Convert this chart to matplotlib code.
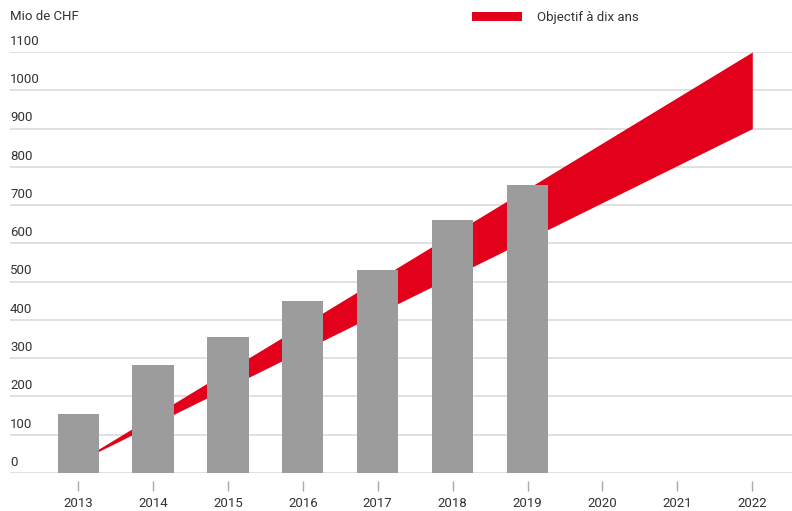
import numpy as np
import matplotlib.pyplot as plt
import matplotlib.transforms as mtransforms

# bar values (Mio de CHF)
years = [2013, 2014, 2015, 2016, 2017, 2018, 2019]
values = [155, 282, 355, 450, 530, 660, 752]

# ten-year objective band: start point and 2022 range
band_years = [2013, 2022]
band_low = [30, 900]
band_high = [30, 1100]

xticks = [2013, 2014, 2015, 2016, 2017, 2018, 2019, 2020, 2021, 2022]
yticks = [0, 100, 200, 300, 400, 500, 600, 700, 800, 900, 1000, 1100]

red = "#E2001A"
grey = "#9C9C9C"
grid = "#DCDCDC"
txt = "#333333"

plt.rcParams['font.family'] = ['Roboto', 'DejaVu Sans']

fig = plt.figure(figsize=(7.92, 5.11), dpi=100)
ax = fig.add_axes([10/792, 38/511, 782/792, 421/511])

# band behind the bars
ax.fill_between(band_years, band_low, band_high, color=red, lw=0, zorder=2,
                label="Objectif à dix ans")
ax.bar(years, values, width=0.55, color=grey, zorder=3)

ax.set_xlim(2012.09, 2022.53)
ax.set_ylim(0, 1100)

# horizontal grid lines
for v in yticks:
    ax.axhline(v, color=grid, lw=1.2, zorder=1)

for s in ax.spines.values():
    s.set_visible(False)

# y labels sit just above their grid line
offset = mtransforms.ScaledTranslation(0, 3/72, fig.dpi_scale_trans)
trans = mtransforms.blended_transform_factory(ax.transAxes, ax.transData) + offset
for v in yticks:
    ax.text(0, v, str(v), transform=trans, ha='left', va='bottom',
            fontsize=9.5, color=txt)
ax.set_yticks([])

ax.set_xticks(xticks)
ax.set_xticklabels([str(y) for y in xticks])
ax.spines['bottom'].set_position(('outward', 6))
ax.tick_params(axis='x', length=7, width=1, color="#AAAAAA", pad=4,
               labelsize=9.5, labelcolor=txt)

fig.text(10/792, 1 - 16/511, "Mio de CHF", ha='left', va='center',
         fontsize=9.5, color=txt)

fig.legend(loc='center left', bbox_to_anchor=(472/792, 1 - 18/511),
           frameon=False, fontsize=9.5, handlelength=3.8, handleheight=0.7,
           handletextpad=1.1, borderpad=0, borderaxespad=0, labelcolor=txt)

fig.savefig("out.png", dpi=100)
